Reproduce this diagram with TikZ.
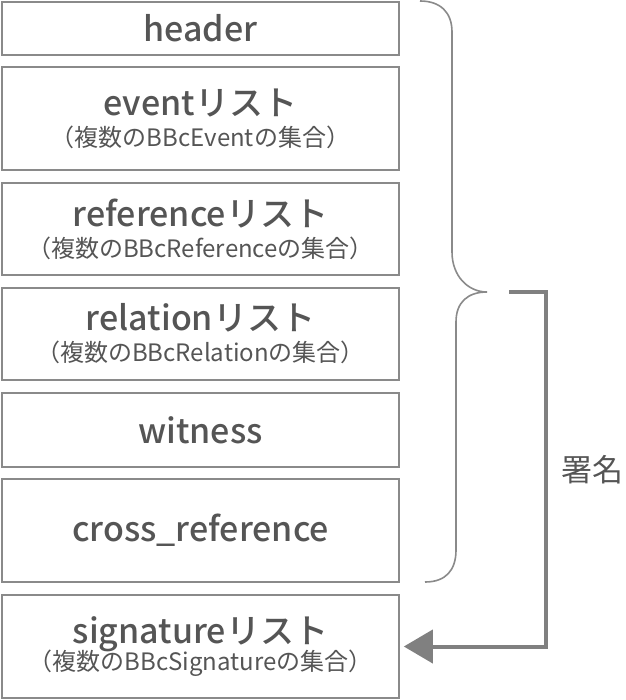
\documentclass[tikz,border=0pt]{standalone}
\usepackage{fontspec}
\setmainfont{Noto Sans CJK JP}[BoldFont={Noto Sans CJK JP Medium}]
\usepackage{tikz}
\usetikzlibrary{arrows.meta,positioning,calc}
\definecolor{bbtrait}{HTML}{8A8A8A}
\definecolor{bbtexte}{HTML}{555555}
\definecolor{bbfleche}{HTML}{808080}

\begin{document}
\begin{tikzpicture}[x=1pt,y=-1pt,
  bloc/.style={draw=bbtrait,line width=1.6pt,minimum width=397pt,inner sep=0pt,
    text=bbtexte,align=center,font=\fontsize{34}{34}\selectfont\bfseries}]
  \useasboundingbox (0,0) rectangle (625,700);
  % blocs de la transaction
  \node[bloc,minimum height=53pt] (header) at (200.5,28.5) {header};
  \node[bloc,minimum height=103pt] (event) at (200.5,118.5)
    {eventリスト\\[-3pt]{\fontsize{24}{24}\selectfont\mdseries （複数のBBcEventの集合）}};
  \node[bloc,minimum height=92pt] (ref) at (200.5,229)
    {referenceリスト\\[-3pt]{\fontsize{24}{24}\selectfont\mdseries （複数のBBcReferenceの集合）}};
  \node[bloc,minimum height=92pt] (rel) at (200.5,334)
    {relationリスト\\[-3pt]{\fontsize{24}{24}\selectfont\mdseries （複数のBBcRelationの集合）}};
  \node[bloc,minimum height=74pt] (wit) at (200.5,430) {witness};
  \node[bloc,minimum height=103pt] (xref) at (200.5,530.5) {cross\_reference};
  \node[bloc,minimum height=103pt] (sig) at (200.5,646.5)
    {signatureリスト\\[-7pt]{\fontsize{24}{24}\selectfont\mdseries （複数のBBcSignatureの集合）}};
  % accolade
  \draw[bbtrait,line width=1.6pt]
    (420,1) .. controls (440,1) and (452,12) .. (452,32) -- (452,252)
    .. controls (452,276) and (468,292) .. (487,292)
    .. controls (468,292) and (456,302) .. (456,322) -- (456,550)
    .. controls (456,570) and (446,582) .. (425,582);
  % fleche de signature
  \coordinate (sgn) at (509,292);
  \draw[bbfleche,line width=4pt,-{Triangle[length=29pt,width=33pt]}]
    (sgn) -- (546,292) |- ([xshift=4pt]sig.east);
  \node[text=bbtexte,font=\fontsize{31}{33}\selectfont] (lbl) at (592,470) {署名};
\end{tikzpicture}
\end{document}
